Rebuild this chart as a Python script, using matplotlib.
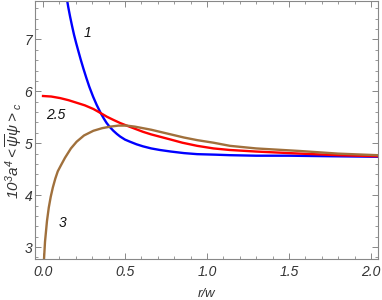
import matplotlib
matplotlib.use("Agg")
import matplotlib.pyplot as plt
from matplotlib.ticker import MultipleLocator

# data
blue_x = [0.147, 0.154, 0.165, 0.177, 0.189, 0.202, 0.215, 0.23, 0.246, 0.264, 0.282, 0.305,
          0.327, 0.352, 0.37, 0.388, 0.408, 0.429, 0.45, 0.47, 0.50, 0.53, 0.57, 0.61,
          0.66, 0.713, 0.78, 0.86, 0.94, 1.05, 1.14, 1.3, 1.5, 1.75, 2.04]
blue_y = [7.75, 7.62, 7.44, 7.26, 7.09, 6.93, 6.78, 6.61, 6.44, 6.26, 6.09, 5.90,
          5.74, 5.58, 5.48, 5.39, 5.31, 5.24, 5.18, 5.13, 5.07, 5.03, 4.98, 4.94,
          4.90, 4.87, 4.84, 4.81, 4.79, 4.78, 4.77, 4.76, 4.76, 4.75, 4.74]

red_x = [0.0, 0.05, 0.104, 0.155, 0.205, 0.255, 0.307, 0.352, 0.39, 0.429, 0.47, 0.51,
         0.56, 0.61, 0.66, 0.72, 0.78, 0.85, 0.94, 1.04, 1.14, 1.3, 1.57, 1.8, 2.04]
red_y = [5.91, 5.90, 5.87, 5.83, 5.78, 5.73, 5.66, 5.58, 5.51, 5.45, 5.39, 5.34,
         5.28, 5.22, 5.17, 5.12, 5.07, 5.01, 4.95, 4.90, 4.87, 4.84, 4.80, 4.77, 4.75]

brown_x = [0.006, 0.012, 0.024, 0.035, 0.047, 0.06, 0.075, 0.09, 0.11, 0.134, 0.17, 0.205,
           0.25, 0.307, 0.36, 0.41, 0.46, 0.51, 0.56, 0.61, 0.66, 0.713, 0.78, 0.86, 0.94,
           1.04, 1.14, 1.3, 1.57, 1.8, 2.04]
brown_y = [2.77, 3.10, 3.50, 3.76, 3.97, 4.15, 4.32, 4.46, 4.58, 4.72, 4.90, 5.03,
           5.15, 5.24, 5.29, 5.32, 5.34, 5.34, 5.32, 5.29, 5.26, 5.22, 5.17, 5.11, 5.06,
           5.01, 4.95, 4.90, 4.85, 4.80, 4.77]

labels = ["1", "2.5", "3"]
label_pos = [(0.27, 7.13), (0.08, 5.54), (0.12, 3.46)]

x_ticks = [0.0, 0.5, 1.0, 1.5, 2.0]
x_tick_labels = ["0.0", "0.5", "1.0", "1.5", "2.0"]
y_ticks = [3, 4, 5, 6, 7]
y_tick_labels = ["3", "4", "5", "6", "7"]

plt.rcParams['font.family'] = ['Liberation Sans', 'DejaVu Sans']
plt.rcParams['mathtext.fontset'] = 'custom'
plt.rcParams['mathtext.it'] = 'Liberation Sans:italic'
plt.rcParams['mathtext.rm'] = 'Liberation Sans:italic'

fig = plt.figure(figsize=(3.82, 3.0), dpi=100)
ax = fig.add_axes([35/382, 41/300, 343/382, 258.5/300])

ax.plot(blue_x, blue_y, color='#0000ff', lw=1.7, solid_joinstyle='round')
ax.plot(red_x, red_y, color='#ff0000', lw=1.7, solid_joinstyle='round')
ax.plot(brown_x, brown_y, color='#a0703c', lw=1.7, solid_joinstyle='round')

for t, (lx, ly) in zip(labels, label_pos):
    ax.text(lx, ly, t, fontsize=10, style='italic', ha='center', va='center', color='#111111')

ax.set_xlim(-0.049, 2.043)
ax.set_ylim(2.77, 7.75)

ax.set_xticks(x_ticks)
ax.set_xticklabels(x_tick_labels)
ax.set_yticks(y_ticks)
ax.set_yticklabels(y_tick_labels)
ax.xaxis.set_minor_locator(MultipleLocator(0.1))
ax.yaxis.set_minor_locator(MultipleLocator(0.2))

tick_col = '#888888'
ax.tick_params(which='both', direction='in', top=True, right=True, color=tick_col,
               labelcolor='#333333', labelsize=10)
ax.tick_params(which='major', length=4, width=0.7)
ax.tick_params(which='minor', length=2.2, width=0.6)
ax.tick_params(axis='x', pad=4)
ax.tick_params(axis='y', pad=2)
for lab in ax.get_xticklabels() + ax.get_yticklabels():
    lab.set_style('italic')
for s in ax.spines.values():
    s.set_color(tick_col)
    s.set_linewidth(0.8)

ax.set_xlabel('r/w', fontsize=9.5, style='italic', color='#333333', labelpad=7)
ax.set_ylabel(r'$10^3a^4{<}\overline{\psi}\psi{>}_c$', fontsize=11, color='#333333')
ax.yaxis.set_label_coords(-0.028, 0.42)

fig.savefig('out.png', dpi=100)
